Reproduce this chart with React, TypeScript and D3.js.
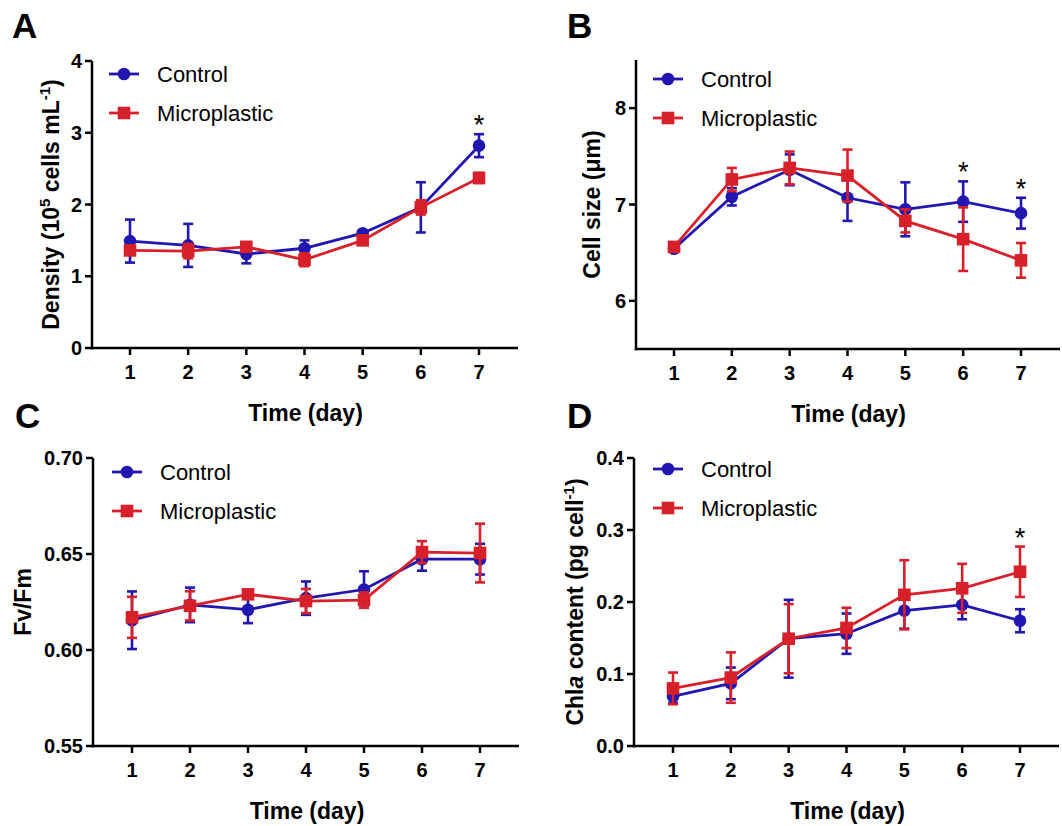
import React from "react";
import * as d3 from "d3";

// ---------- data ----------
const days = [1, 2, 3, 4, 5, 6, 7];
const seriesNames = ["Control", "Microplastic"];

const densityControl = [1.49, 1.43, 1.31, 1.39, 1.6, 1.96, 2.82];
const densityControlErr = [0.3, 0.3, 0.13, 0.11, 0.04, 0.35, 0.16];
const densityMicro = [1.36, 1.35, 1.41, 1.23, 1.5, 1.96, 2.37];
const densityMicroErr = [0.06, 0.1, 0.06, 0.09, 0.05, 0.1, 0.07];

const cellControl = [6.54, 7.08, 7.36, 7.07, 6.95, 7.03, 6.91];
const cellControlErr = [0.02, 0.09, 0.16, 0.24, 0.28, 0.21, 0.16];
const cellMicro = [6.56, 7.26, 7.38, 7.3, 6.83, 6.64, 6.42];
const cellMicroErr = [0.02, 0.12, 0.17, 0.27, 0.12, 0.33, 0.18];

const fvControl = [0.6155, 0.6235, 0.621, 0.627, 0.6315, 0.6473, 0.6473];
const fvControlErr = [0.015, 0.009, 0.007, 0.0087, 0.0095, 0.006, 0.008];
const fvMicro = [0.617, 0.623, 0.629, 0.6255, 0.626, 0.651, 0.6505];
const fvMicroErr = [0.0107, 0.0076, 0.002, 0.0063, 0.004, 0.0057, 0.0153];

const chlaControl = [0.069, 0.087, 0.149, 0.156, 0.188, 0.196, 0.174];
const chlaControlErr = [0.009, 0.022, 0.054, 0.028, 0.025, 0.02, 0.016];
const chlaMicro = [0.08, 0.095, 0.149, 0.164, 0.21, 0.219, 0.242];
const chlaMicroErr = [0.022, 0.035, 0.048, 0.028, 0.048, 0.034, 0.035];

const densityTicks = [0, 1, 2, 3, 4];
const cellTicks = [6, 7, 8];
const fvTicks = [0.55, 0.6, 0.65, 0.7];
const chlaTicks = [0, 0.1, 0.2, 0.3, 0.4];

const densitySig = [7];
const cellSig = [6, 7];
const fvSig: number[] = [];
const chlaSig = [7];

// ---------- styles ----------
const BLUE = "#2117B0";
const RED = "#D8202A";
const FONT = "'Liberation Sans', Arial, Helvetica, sans-serif";

type Panel = {
  letter: string;
  letterX: number;
  letterY: number;
  axisX: number;
  xFirst: number;
  xLast: number;
  yTop: number;
  yBot: number;
  domain: [number, number];
  ticks: number[];
  fmt: (d: number) => string;
  control: number[];
  controlErr: number[];
  micro: number[];
  microErr: number[];
  sig: number[];
  legendX: number;
  legendY: number;
  titleX: number;
  title: React.ReactNode;
};

const panels: Panel[] = [
  {
    letter: "A", letterX: 12, letterY: 38,
    axisX: 92, xFirst: 130, xLast: 479, yTop: 61, yBot: 348,
    domain: [0, 4], ticks: densityTicks, fmt: d3.format("d"),
    control: densityControl, controlErr: densityControlErr,
    micro: densityMicro, microErr: densityMicroErr, sig: densitySig,
    legendX: 109, legendY: 74, titleX: 59,
    title: (
      <>
        Density (10<tspan dy={-9} fontSize={15}>5</tspan>
        <tspan dy={9}> cells mL</tspan>
        <tspan dy={-9} fontSize={15}>-1</tspan>
        <tspan dy={9}>)</tspan>
      </>
    ),
  },
  {
    letter: "B", letterX: 567, letterY: 38,
    axisX: 636, xFirst: 674, xLast: 1021, yTop: 60, yBot: 349,
    domain: [5.5, 8.5], ticks: cellTicks, fmt: d3.format("d"),
    control: cellControl, controlErr: cellControlErr,
    micro: cellMicro, microErr: cellMicroErr, sig: cellSig,
    legendX: 653, legendY: 79, titleX: 600,
    title: <>Cell size (μm)</>,
  },
  {
    letter: "C", letterX: 15, letterY: 428,
    axisX: 93, xFirst: 132, xLast: 480, yTop: 458, yBot: 746,
    domain: [0.55, 0.7], ticks: fvTicks, fmt: d3.format(".2f"),
    control: fvControl, controlErr: fvControlErr,
    micro: fvMicro, microErr: fvMicroErr, sig: fvSig,
    legendX: 112, legendY: 472, titleX: 31,
    title: <>Fv/Fm</>,
  },
  {
    letter: "D", letterX: 567, letterY: 428,
    axisX: 634, xFirst: 673, xLast: 1020, yTop: 458, yBot: 746,
    domain: [0, 0.4], ticks: chlaTicks, fmt: d3.format(".1f"),
    control: chlaControl, controlErr: chlaControlErr,
    micro: chlaMicro, microErr: chlaMicroErr, sig: chlaSig,
    legendX: 653, legendY: 469, titleX: 583,
    title: (
      <>
        Chl<tspan fontStyle="italic">a</tspan> content (pg cell
        <tspan dy={-9} fontSize={15}>-1</tspan>
        <tspan dy={9}>)</tspan>
      </>
    ),
  },
];

function Marker({ kind, x, y, color }: { kind: number; x: number; y: number; color: string }) {
  if (kind === 0) return <circle cx={x} cy={y} r={6.3} fill={color} />;
  return <rect x={x - 6.3} y={y - 6.3} width={12.6} height={12.6} fill={color} />;
}

function PanelView({ p }: { p: Panel }) {
  const x = d3.scaleLinear().domain([1, 7]).range([p.xFirst, p.xLast]);
  const y = d3.scaleLinear().domain(p.domain).range([p.yBot, p.yTop]);
  const line = d3
    .line<number>()
    .x((_, i) => x(days[i]))
    .y((d) => y(d));
  const series = [
    { vals: p.control, errs: p.controlErr, color: BLUE },
    { vals: p.micro, errs: p.microErr, color: RED },
  ];
  const xEnd = p.xLast + 39;
  const cap = 5;
  return (
    <g fontFamily={FONT}>
      <text x={p.letterX} y={p.letterY} fontSize={35} fontWeight="bold">
        {p.letter}
      </text>
      {/* axes */}
      <line x1={p.axisX} x2={p.axisX} y1={p.yTop} y2={p.yBot + 1.25} stroke="#000" strokeWidth={2.5} />
      <line x1={p.axisX - 1.25} x2={xEnd} y1={p.yBot} y2={p.yBot} stroke="#000" strokeWidth={2.5} />
      {p.ticks.map((t) => (
        <g key={t}>
          <line x1={p.axisX - 7} x2={p.axisX} y1={y(t)} y2={y(t)} stroke="#000" strokeWidth={2.5} />
          <text
            x={p.axisX - 10}
            y={y(t) + 7}
            textAnchor="end"
            fontSize={20}
            fontWeight="bold"
          >
            {p.fmt(t)}
          </text>
        </g>
      ))}
      {days.map((d) => (
        <g key={d}>
          <line x1={x(d)} x2={x(d)} y1={p.yBot} y2={p.yBot + 7} stroke="#000" strokeWidth={2.5} />
          <text x={x(d)} y={p.yBot + 31} textAnchor="middle" fontSize={20} fontWeight="bold">
            {d}
          </text>
        </g>
      ))}
      <text
        x={(p.xFirst + p.xLast) / 2 + 1}
        y={p.yBot + 73}
        textAnchor="middle"
        fontSize={23}
        fontWeight="bold"
      >
        Time (day)
      </text>
      <text
        transform={`translate(${p.titleX},${(p.yTop + p.yBot) / 2}) rotate(-90)`}
        textAnchor="middle"
        fontSize={23}
        fontWeight="bold"
      >
        {p.title}
      </text>
      {/* series */}
      {series.map((s, si) => (
        <g key={si}>
          <path d={line(s.vals) || ""} fill="none" stroke={s.color} strokeWidth={2.8} />
          {s.vals.map((v, i) => {
            const cx = x(days[i]);
            const t = y(v + s.errs[i]);
            const b = y(v - s.errs[i]);
            return (
              <g key={i} stroke={s.color} strokeWidth={2.6}>
                <line x1={cx} x2={cx} y1={t} y2={b} />
                <line x1={cx - cap} x2={cx + cap} y1={t} y2={t} />
                <line x1={cx - cap} x2={cx + cap} y1={b} y2={b} />
              </g>
            );
          })}
          {s.vals.map((v, i) => (
            <Marker key={i} kind={si} x={x(days[i])} y={y(v)} color={s.color} />
          ))}
        </g>
      ))}
      {/* significance */}
      {p.sig.map((d) => {
        const i = days.indexOf(d);
        const top = Math.max(p.control[i] + p.controlErr[i], p.micro[i] + p.microErr[i]);
        return (
          <text key={d} x={x(d)} y={y(top) + 0} textAnchor="middle" fontSize={27}>
            *
          </text>
        );
      })}
      {/* legend */}
      {seriesNames.map((name, si) => {
        const ly = p.legendY + si * 39;
        const color = si === 0 ? BLUE : RED;
        return (
          <g key={name}>
            <line x1={p.legendX} x2={p.legendX + 30} y1={ly} y2={ly} stroke={color} strokeWidth={2.8} />
            <Marker kind={si} x={p.legendX + 15} y={ly} color={color} />
            <text x={p.legendX + 48} y={ly + 8} fontSize={22}>
              {name}
            </text>
          </g>
        );
      })}
    </g>
  );
}

export default function App() {
  return (
    <svg
      width={1062}
      height={826}
      style={{ position: "absolute", left: 0, top: 0, background: "#fff" }}
    >
      <rect width={1062} height={826} fill="#fff" />
      {panels.map((p) => (
        <PanelView key={p.letter} p={p} />
      ))}
    </svg>
  );
}
